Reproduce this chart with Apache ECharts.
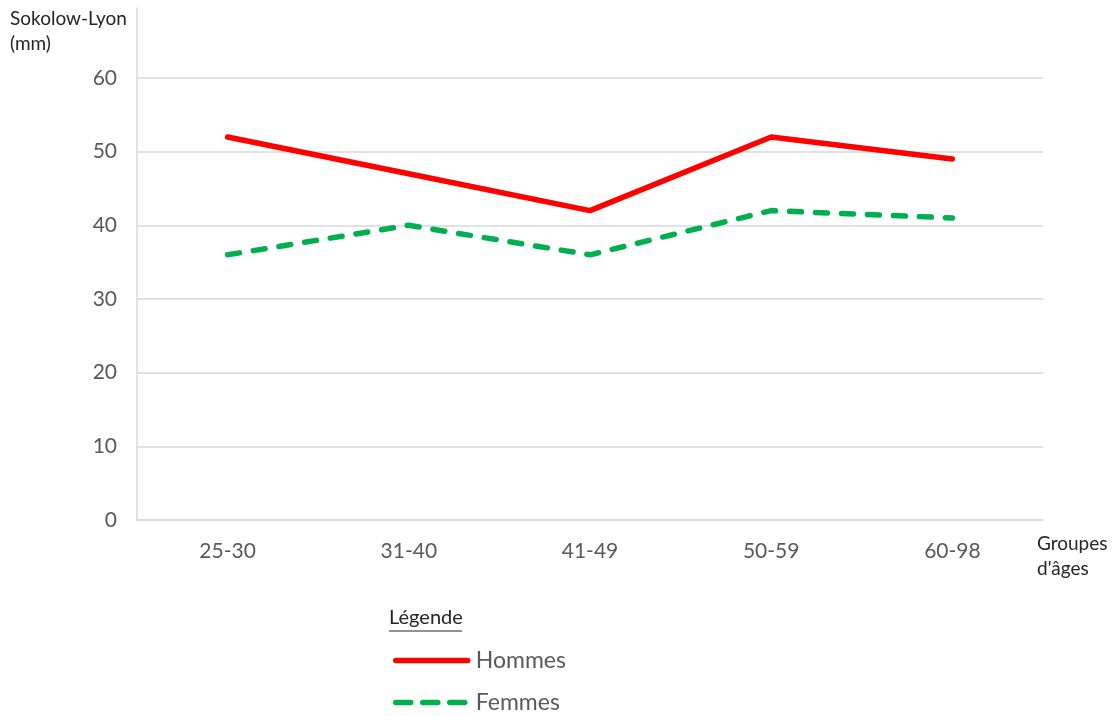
<!DOCTYPE html>
<html>
<head>
<meta charset="utf-8">
<script src="https://cdn.jsdelivr.net/npm/echarts@6/dist/echarts.min.js"></script>
<style>html,body{margin:0;padding:0;background:#fff}#c{width:1116px;height:716px}</style>
</head>
<body>
<div id="c"></div>
<script>
const categories = ['25-30', '31-40', '41-49', '50-59', '60-98'];
const hommes = [52, 47, 42, 52, 49];
const femmes = [36, 40, 36, 42, 41];
const yTicks = { min: 0, max: 60, interval: 10 };

const FONT = 'Lato';
const chart = echarts.init(document.getElementById('c'), null, { renderer: 'canvas' });
chart.setOption({
  backgroundColor: '#ffffff',
  animation: false,
  grid: [
    { left: 137, right: 73, top: 78, bottom: 196 },
    { left: 137, right: 73, top: 8, bottom: 196 }
  ],
  xAxis: [
    {
      type: 'category', data: categories, gridIndex: 0, boundaryGap: true,
      axisLine: { lineStyle: { color: '#d9d9d9', width: 1.5 } },
      axisTick: { show: false },
      axisLabel: { color: '#595959', fontFamily: FONT, fontSize: 21, margin: 21 }
    },
    { type: 'value', gridIndex: 1, show: false }
  ],
  yAxis: [
    {
      type: 'value', gridIndex: 0, min: yTicks.min, max: yTicks.max, interval: yTicks.interval,
      axisLine: { show: false },
      axisTick: { show: false },
      splitLine: { lineStyle: { color: '#d9d9d9', width: 1.5 } },
      axisLabel: { color: '#595959', fontFamily: FONT, fontSize: 21, margin: 20 }
    },
    {
      type: 'value', gridIndex: 1, min: 0, max: 1,
      axisLine: { show: true, lineStyle: { color: '#d9d9d9', width: 1.5 } },
      axisTick: { show: false }, axisLabel: { show: false }, splitLine: { show: false }
    }
  ],
  legend: {
    orient: 'vertical', left: 393, top: 649, padding: 0, itemGap: 19, itemWidth: 72, itemHeight: 22,
    textStyle: { color: '#595959', fontFamily: FONT, fontSize: 23, padding: [0, 0, 0, 3] },
    itemStyle: { opacity: 0 },
    lineStyle: { width: 5.5, cap: 'round' },
    data: [
      { name: 'Hommes' },
      { name: 'Femmes', lineStyle: { width: 5.5, cap: 'round', type: [15, 12] } }
    ]
  },
  graphic: [
    { type: 'text', left: 10, top: 6, style: { text: 'Sokolow-Lyon\n(mm)', fill: '#262626', font: '19px ' + FONT, lineHeight: 25 } },
    { type: 'text', left: 1037, top: 531, style: { text: "Groupes\nd'âges", fill: '#262626', font: '19px ' + FONT, lineHeight: 25 } },
    { type: 'text', left: 389, top: 608, style: { text: 'Légende', fill: '#262626', font: '20px ' + FONT } },
    { type: 'line', shape: { x1: 389, y1: 631, x2: 462, y2: 631 }, style: { stroke: '#262626', lineWidth: 1 } }
  ],
  series: [
    {
      name: 'Hommes', type: 'line', data: hommes, symbol: 'circle', showSymbol: false,
      lineStyle: { color: '#ff0000', width: 5.5, cap: 'round', join: 'round' },
      itemStyle: { color: '#ff0000' }
    },
    {
      name: 'Femmes', type: 'line', data: femmes, symbol: 'circle', showSymbol: false,
      lineStyle: { color: '#00b050', width: 5.5, type: [12, 14], cap: 'round', join: 'round' },
      itemStyle: { color: '#00b050' }
    }
  ]
});
</script>
</body>
</html>
